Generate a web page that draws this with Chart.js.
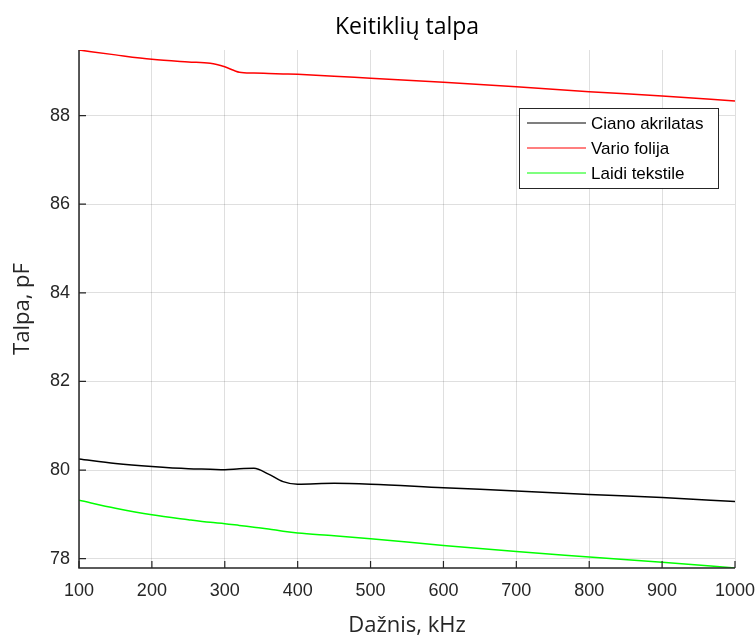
<!DOCTYPE html>
<html>
<head>
<meta charset="utf-8">
<script src="https://cdn.jsdelivr.net/npm/chart.js@4"></script>
<style>
  body { margin: 0; background: #fff; }
  #wrap { width: 756px; height: 639px; }
</style>
</head>
<body>
<div id="wrap"><canvas id="talpaChart" width="756" height="639"></canvas></div>
<script>
// frequency, kHz
var freq = [100, 150, 200, 250, 280, 300, 320, 340, 360, 380, 400, 450, 500, 600, 700, 800, 900, 1000];

// capacitance, pF
var cianoAkrilatas = [80.25, 80.15, 80.08, 80.03, 80.02, 80.01, 80.03, 80.04, 79.91, 79.74, 79.68, 79.70, 79.68, 79.60, 79.53, 79.45, 79.38, 79.29];
var varioFolija    = [89.48, 89.37, 89.27, 89.21, 89.18, 89.10, 88.98, 88.96, 88.95, 88.94, 88.93, 88.89, 88.84, 88.75, 88.65, 88.54, 88.44, 88.33];
var laidiTekstile  = [79.32, 79.14, 78.99, 78.88, 78.82, 78.79, 78.75, 78.71, 78.67, 78.62, 78.58, 78.52, 78.45, 78.30, 78.16, 78.04, 77.92, 77.79];

var xTicks = [100, 200, 300, 400, 500, 600, 700, 800, 900, 1000];
var yTicks = [78, 80, 82, 84, 86, 88];

var chartTitle = 'Keitiklių talpa';
var axisColor = '#262626';
var gridColor = 'rgba(38,38,38,0.15)';

function points(ys) {
    return freq.map(function (f, i) { return { x: f, y: ys[i] }; });
}

// axis lines + inward ticks (matlab look), title centred over the plot
var axesPlugin = {
    id: 'axesPlugin',
    afterDatasetsDraw: function (chart) {
        var ctx = chart.ctx, a = chart.chartArea;
        var xs = chart.scales.x, ys = chart.scales.y;
        ctx.save();
        ctx.strokeStyle = axisColor;
        ctx.lineWidth = 1.5;
        ctx.beginPath();
        ctx.moveTo(a.left, a.top);
        ctx.lineTo(a.left, a.bottom);
        ctx.lineTo(a.right, a.bottom);
        ctx.stroke();
        ctx.lineWidth = 1.2;
        ctx.beginPath();
        xTicks.forEach(function (v) {
            var px = xs.getPixelForValue(v);
            ctx.moveTo(px, a.bottom);
            ctx.lineTo(px, a.bottom - 7);
        });
        yTicks.forEach(function (v) {
            var py = ys.getPixelForValue(v);
            ctx.moveTo(a.left, py);
            ctx.lineTo(a.left + 7, py);
        });
        ctx.stroke();

        ctx.fillStyle = '#000';
        ctx.font = '23px "Open Sans", sans-serif';
        ctx.textAlign = 'center';
        ctx.textBaseline = 'alphabetic';
        ctx.fillText(chartTitle, (a.left + a.right) / 2, a.top - 16);
        ctx.restore();
    }
};

// boxed legend inside the plot, top right
var boxLegend = {
    id: 'boxLegend',
    afterDraw: function (chart) {
        var ctx = chart.ctx, a = chart.chartArea;
        var w = 199, h = 80;
        var x0 = a.right - 17 - w, y0 = a.top + 58;
        ctx.save();
        ctx.fillStyle = '#fff';
        ctx.fillRect(x0, y0, w, h);
        ctx.strokeStyle = axisColor;
        ctx.lineWidth = 1;
        ctx.strokeRect(x0 + 0.5, y0 + 0.5, w, h);
        ctx.font = '17px "Liberation Sans", Arial, sans-serif';
        ctx.textBaseline = 'middle';
        ctx.fillStyle = '#000';
        chart.data.datasets.forEach(function (ds, i) {
            var ry = y0 + 15 + i * 25;
            ctx.strokeStyle = ds.borderColor;
            ctx.lineWidth = 1.2;
            ctx.beginPath();
            ctx.moveTo(x0 + 8, ry);
            ctx.lineTo(x0 + 67, ry);
            ctx.stroke();
            ctx.fillText(ds.label, x0 + 72, ry + 1);
        });
        ctx.restore();
    }
};

var ctx = document.getElementById('talpaChart').getContext('2d');
var chart = new Chart(ctx, {
    type: 'line',
    data: {
        datasets: [{
            label: 'Ciano akrilatas',
            borderColor: '#000000',
            data: points(cianoAkrilatas)
        },
        {
            label: 'Vario folija',
            borderColor: '#ff0000',
            data: points(varioFolija)
        },
        {
            label: 'Laidi tekstile',
            borderColor: '#00ff00',
            data: points(laidiTekstile)
        }]
    },
    options: {
        responsive: false,
        animation: false,
        layout: { padding: { left: 0, right: 21, top: 50, bottom: 0 } },
        elements: {
            point: { radius: 0 },
            line: { borderWidth: 1.5, cubicInterpolationMode: 'monotone', fill: false }
        },
        plugins: {
            legend: { display: false },
            tooltip: { enabled: false },
            title: { display: false }
        },
        scales: {
            x: {
                type: 'linear',
                min: 100,
                max: 1000,
                afterBuildTicks: function (axis) {
                    axis.ticks = xTicks.map(function (v) { return { value: v }; });
                },
                afterFit: function (axis) {
                    axis.height = 71;
                    axis.paddingLeft = 0;
                    axis.paddingRight = 0;
                },
                grid: { color: gridColor, drawTicks: false },
                border: { display: false },
                ticks: {
                    color: axisColor,
                    padding: 12,
                    maxRotation: 0,
                    callback: function (v) { return String(v); },
                    font: { family: '"Liberation Sans", Arial, sans-serif', size: 18 }
                },
                title: {
                    display: true,
                    text: 'Dažnis, kHz',
                    color: axisColor,
                    font: { family: '"Open Sans", sans-serif', size: 22 },
                    padding: { top: 0, bottom: 0 }
                }
            },
            y: {
                min: 77.79,
                max: 89.48,
                afterBuildTicks: function (axis) {
                    axis.ticks = yTicks.map(function (v) { return { value: v }; });
                },
                afterFit: function (axis) {
                    axis.width = 79;
                    axis.paddingTop = 0;
                    axis.paddingBottom = 0;
                },
                grid: { color: gridColor, drawTicks: false },
                border: { display: false },
                ticks: {
                    color: axisColor,
                    padding: 9,
                    font: { family: '"Liberation Sans", Arial, sans-serif', size: 18 }
                },
                title: {
                    display: true,
                    text: 'Talpa, pF',
                    color: axisColor,
                    font: { family: '"Open Sans", sans-serif', size: 22 },
                    padding: { top: 10, bottom: 0 }
                }
            }
        }
    },
    plugins: [axesPlugin, boxLegend]
});
</script>
</body>
</html>
